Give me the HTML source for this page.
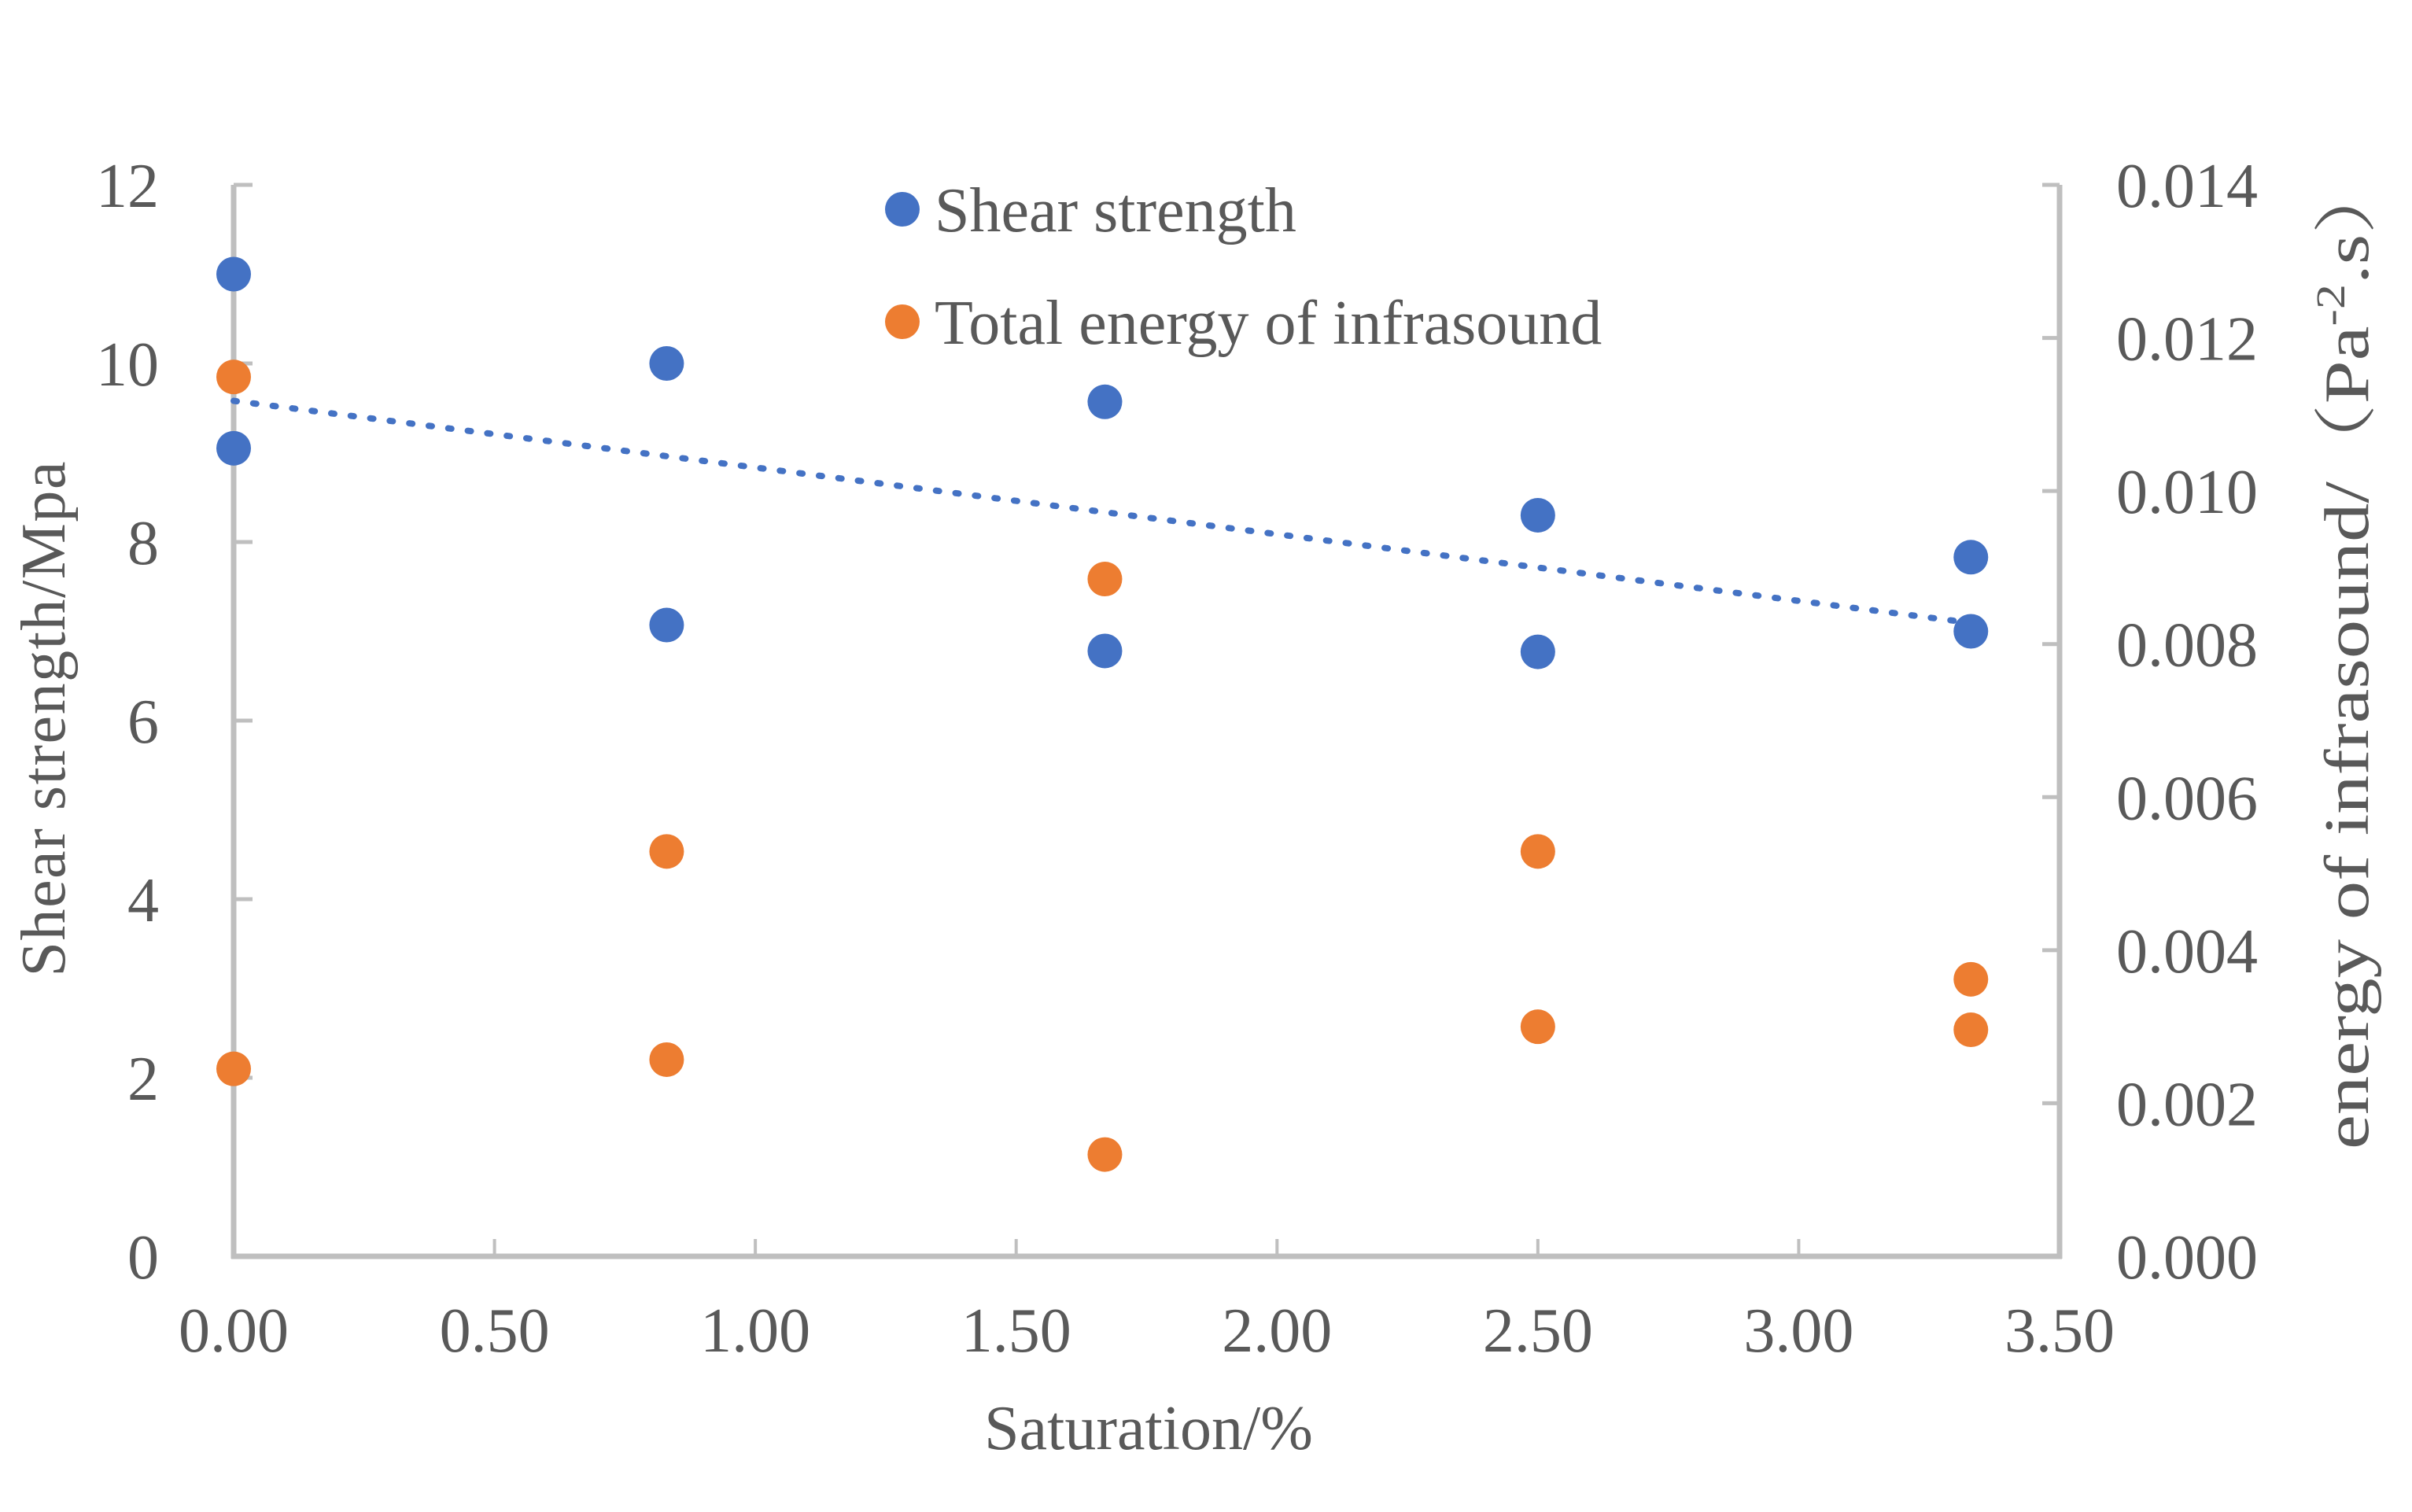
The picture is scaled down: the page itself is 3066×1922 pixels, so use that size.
<!DOCTYPE html>
<html><head><meta charset="utf-8"><style>
html,body{margin:0;padding:0;background:#fff;}
svg{display:block;}
text{font-family:"Liberation Serif","Noto Serif CJK SC",serif;fill:#595959;}
</style></head><body>
<svg id="chart" width="3066" height="1922" viewBox="0 0 3066 1922" xmlns="http://www.w3.org/2000/svg">
<rect x="0" y="0" width="3066" height="1922" fill="#fff"/>
<g id="axes"></g>
<g id="marks"></g>
<text x="1460" y="1842" font-size="80" text-anchor="middle">Saturation/%</text>
<text transform="translate(82,914) rotate(-90)" font-size="80" text-anchor="middle" textLength="655">Shear strength/Mpa</text>
<text transform="translate(3010,830) rotate(-90)" font-size="80" text-anchor="middle" textLength="1262" lengthAdjust="spacingAndGlyphs">energy of infrasound/（Pa<tspan font-size="52" dy="-30">-2</tspan><tspan dy="30">.s）</tspan></text>
<g>
  <circle cx="1147" cy="266" r="22" fill="#4472C4"/>
  <text x="1188" y="294" font-size="80">Shear strength</text>
  <circle cx="1147" cy="409" r="22" fill="#ED7D31"/>
  <text x="1188" y="437" font-size="80">Total energy of infrasound</text>
</g>
</svg>
<script>
const shearX = [0.0, 0.0, 0.83, 0.83, 1.67, 1.67, 2.50, 2.50, 3.33, 3.33];
const shearY = [11.0, 9.05, 10.0, 7.07, 9.57, 6.78, 8.30, 6.77, 7.83, 7.00];
const energyX = [0.0, 0.0, 0.83, 0.83, 1.67, 1.67, 2.50, 2.50, 3.33, 3.33];
const energyY = [0.01149, 0.00245, 0.00529, 0.00257, 0.00885, 0.00133, 0.00529, 0.00300, 0.00362, 0.00296];
const xTicks = ["0.00","0.50","1.00","1.50","2.00","2.50","3.00","3.50"];
const yLeftTicks = ["0","2","4","6","8","10","12"];
const yRightTicks = ["0.000","0.002","0.004","0.006","0.008","0.010","0.012","0.014"];

const NS = "http://www.w3.org/2000/svg";
const L = 297, R = 2618, T = 235, B = 1597;
const xMax = 3.5, yLMax = 12, yRMax = 0.014;
const sx = v => L + v / xMax * (R - L);
const syL = v => B - v / yLMax * (B - T);
const syR = v => B - v / yRMax * (B - T);
function mk(tag, attrs, parent) {
  const e = document.createElementNS(NS, tag);
  for (const k in attrs) e.setAttribute(k, attrs[k]);
  parent.appendChild(e);
  return e;
}
const axes = document.getElementById('axes');
const marks = document.getElementById('marks');
const grey = "#bfbfbf";

let e = mk('line', {x1: L, y1: T, x2: L, y2: B + 3, stroke: grey, 'stroke-width': 7}, axes);


e = mk('line', {x1: R, y1: T, x2: R, y2: B + 3, stroke: grey, 'stroke-width': 7}, axes);


e = mk('line', {x1: L - 3, y1: B, x2: R + 3, y2: B, stroke: grey, 'stroke-width': 7}, axes);



xTicks.forEach(t => {
  const x = sx(parseFloat(t));
  let tk = mk('line', {x1: x, y1: B, x2: x, y2: B - 22, stroke: grey, 'stroke-width': 4}, axes);
  
  
  const tx = mk('text', {x: x, y: 1718, 'font-size': 80, 'text-anchor': 'middle'}, axes);
  tx.textContent = t;
  
  
});
yLeftTicks.forEach(t => {
  const y = syL(parseFloat(t));
  let tk = mk('line', {x1: L, y1: y, x2: L + 24, y2: y, stroke: grey, 'stroke-width': 5}, axes);
  
  
  const tx = mk('text', {x: 202, y: y + 28, 'font-size': 80, 'text-anchor': 'end'}, axes);
  tx.textContent = t;
  
  
});
yRightTicks.forEach(t => {
  const y = syR(parseFloat(t));
  let tk = mk('line', {x1: R - 22, y1: y, x2: R, y2: y, stroke: grey, 'stroke-width': 5}, axes);
  
  
  const tx = mk('text', {x: 2690, y: y + 28, 'font-size': 80}, axes);
  tx.textContent = t;
  
  
});

// linear trendline (least squares over shear data)
const n = shearX.length;
const mx = shearX.reduce((a, b) => a + b, 0) / n;
const my = shearY.reduce((a, b) => a + b, 0) / n;
let sxy = 0, sxx = 0;
for (let i = 0; i < n; i++) { sxy += (shearX[i] - mx) * (shearY[i] - my); sxx += (shearX[i] - mx) ** 2; }
const slope = sxy / sxx, icpt = my - slope * mx;
const x0 = Math.min(...shearX), x1 = Math.max(...shearX);
const tl = mk('line', {x1: sx(x0), y1: syL(icpt + slope * x0), x2: sx(x1), y2: syL(icpt + slope * x1),
  stroke: '#4472C4', 'stroke-width': 8, 'stroke-dasharray': '4 21', 'stroke-linecap': 'round'}, marks);



shearX.forEach((xv, i) => {
  const c = mk('circle', {cx: sx(xv), cy: syL(shearY[i]), r: 22, fill: '#4472C4'}, marks);
  
  
});
energyX.forEach((xv, i) => {
  const c = mk('circle', {cx: sx(xv), cy: syR(energyY[i]), r: 22, fill: '#ED7D31'}, marks);
  
  
});
</script>
</body></html>
